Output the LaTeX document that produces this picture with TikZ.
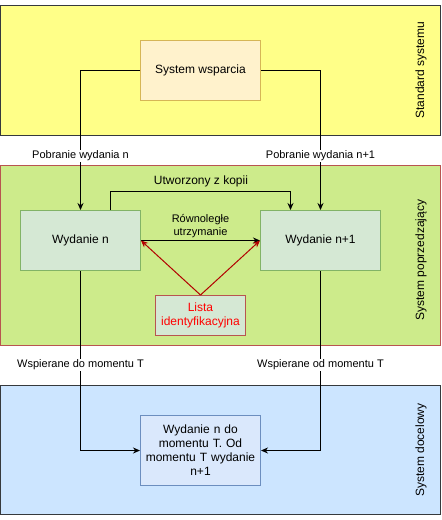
\documentclass[tikz,border=0pt]{standalone}
\usepackage{fontspec}
\setmainfont{Liberation Sans}
\usepackage{tikz}
\usetikzlibrary{arrows.meta}

\definecolor{bandyellow}{HTML}{FFFF88}
\definecolor{bandgreen}{HTML}{CDEB8B}
\definecolor{bandblue}{HTML}{CCE5FF}
\definecolor{bandline}{HTML}{36393D}
\definecolor{redline}{HTML}{B85450}
\definecolor{boxorange}{HTML}{FFF2CC}
\definecolor{lineorange}{HTML}{D6B656}
\definecolor{boxgreen}{HTML}{D5E8D4}
\definecolor{linegreen}{HTML}{82B366}
\definecolor{boxblue}{HTML}{DAE8FC}
\definecolor{lineblue}{HTML}{6C8EBF}
\definecolor{arrowred}{HTML}{B20000}

\begin{document}
\begin{tikzpicture}[x=1pt,y=-1pt,font=\fontsize{12}{14}\selectfont,
		>={Stealth[length=7pt,width=6pt]},line width=1pt,
		box/.style={draw,minimum width=120pt,minimum height=60pt,inner sep=2pt,align=center},
		lbl/.style={fill=white,inner sep=1pt,font=\fontsize{11}{13.2}\selectfont},
		elbl/.style={inner sep=1pt,align=center,font=\fontsize{11}{13.2}\selectfont},
		side/.style={rotate=90}]
			\useasboundingbox (0,0) rectangle (442,520);
			% pasy
			\filldraw[fill=bandyellow,draw=bandline] (0.5,5.5) rectangle (440.5,135.5);
			\filldraw[fill=bandgreen,draw=redline] (0.5,165.5) rectangle (440.5,345.5);
			\filldraw[fill=bandblue,draw=bandline] (0.5,385.5) rectangle (440.5,514.5);
			\node[side] (std) at (421,70) {Standard systemu};
			\node[side] (pop) at (421,260) {System poprzedzający};
			\node[side] (doc) at (421,450) {System docelowy};
			% bloki
			\node[box,fill=boxorange,draw=lineorange] (ws) at (200.5,70.5) {System wsparcia};
			\node[box,fill=boxgreen,draw=linegreen] (wn) at (80.5,240.5) {Wydanie n};
			\node[box,fill=boxgreen,draw=linegreen] (wn1) at (320.5,240.5) {Wydanie n+1};
			\node[box,fill=boxgreen,draw=redline,text=red,minimum width=90pt,minimum height=40pt] (lista) at (200.5,315.5) {Lista\\identyfikacyjna};
			\node[box,fill=boxblue,draw=lineblue,minimum height=70pt,text width=116pt] (wt) at (200.5,450.5) {Wydanie n do\\momentu T. Od\\momentu T wydanie\\n+1};
			% polaczenia
			\draw[->] (ws.west) -| (wn.north);
			\draw[->] (ws.east) -| (wn1.north);
			\node[lbl] (pn) at (80.5,156) {Pobranie wydania n};
			\node[lbl] (pn1) at (320.5,156) {Pobranie wydania n+1};
			\draw[->] ([xshift=30pt]wn.north) -- ++(0,-19) -| ([xshift=-30pt]wn1.north);
			\node[inner sep=1pt] (kop) at (201,181) {Utworzony z kopii};
			\draw[->] (wn.east) -- (wn1.west);
			\node[elbl] (rown) at (200.5,226) {Równoległe\\utrzymanie};
			\draw[->,arrowred] (lista.north) -- (wn.east);
			\draw[->,arrowred] (lista.north) -- (wn1.west);
			\draw[->] (wn.south) |- (wt.west);
			\draw[->] (wn1.south) |- (wt.east);
			\node[lbl] (wdo) at (80.5,365) {Wspierane do momentu T};
			\node[lbl] (wod) at (320.5,365) {Wspierane od momentu T};
		\end{tikzpicture}
\end{document}
